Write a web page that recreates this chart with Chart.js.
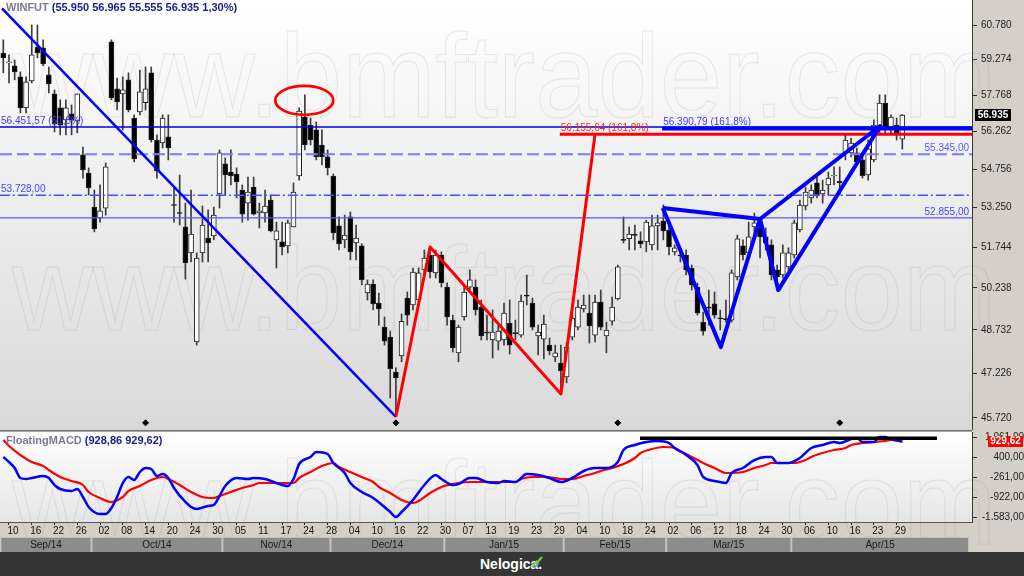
<!DOCTYPE html>
<html>
<head>
<meta charset="utf-8">
<title>WINFUT - FloatingMACD</title>
<script src="https://cdn.jsdelivr.net/npm/chart.js@4.4.1/dist/chart.umd.min.js"></script>
<style>
  html, body { margin: 0; padding: 0; background: #d4d0c8; }
  #wrap { position: relative; width: 1024px; height: 576px; overflow: hidden; font-family: "Liberation Sans", Arial, sans-serif; }
  canvas { position: absolute; left: 0; }
  #price { top: 0; }
  #macd { top: 430px; }
  .title { position: absolute; left: 6px; font-weight: bold; font-size: 11px; white-space: pre; }
  .title .sym { color: #7a7a98; }
  .title .val { color: #1c1c8c; }
  #footer { position: absolute; left: 0; top: 552px; width: 1024px; height: 24px; background: #353535; }
  #footer span { position: absolute; left: 480px; top: 4px; color: #fff; font: bold 14px "Liberation Sans", Arial, sans-serif; }
  #footer svg { position: absolute; left: 531px; top: 3px; }
</style>
</head>
<body>
<div id="wrap">
  <canvas id="price" width="1024" height="430"></canvas>
  <canvas id="macd" width="1024" height="122"></canvas>
  <div class="title" style="top:1px"><span class="sym">WINFUT</span> <span class="val">(55.950 56.965 55.555 56.935 1,30%)</span></div>
  <div class="title" style="top:434px"><span class="sym">FloatingMACD</span> <span class="val">(928,86 929,62)</span></div>
  <div id="footer"><span>Nelogica.</span>
    <svg width="12" height="14"><polyline points="1,12 6,6 5,9 11,2" stroke="#7fd23c" stroke-width="2" fill="none"/><polyline points="3,13 8,8" stroke="#2ab6e0" stroke-width="1.5" fill="none"/></svg>
  </div>
</div>
<script>
// WINFUT daily candles, 09/Sep/2014 .. 30/Apr/2015 (one entry per trading day)
const opens = [
  59560,59130,59010,58540,57240,58370,59820,59780,58620,57820,
  57240,56740,56990,56700,55320,54600,53270,52850,53230,60040,
  58030,57820,58410,56820,57070,57450,58710,55920,55800,56050,
  53350,53040,52510,51530,48310,51530,52090,52170,53780,54960,
  54640,54560,53930,53420,54050,53040,53040,53540,52020,51940,
  51790,52510,54480,56860,56530,56330,55720,55240,54480,52550,
  52020,52890,51900,51790,50060,50380,49690,48830,48480,47270,
  47820,49870,49620,49800,50900,51450,50790,51450,50270,49080,
  47930,49190,50270,50270,49550,48660,48380,48340,48380,48970,
  48640,48550,49960,49690,48520,48410,48200,47790,47580,47100,
  48480,48830,49480,49330,48550,49730,48520,49040,49840,52040,
  52060,52220,51980,51940,51830,52550,52730,52390,51570,51450,
  51450,50970,50270,49010,49530,49660,49150,49120,49080,50640,
  51790,51530,52510,52660,52130,51830,50900,50710,51010,51450,
  52390,53310,53620,54210,53780,54130,54480,54280,55400,55400,
  55400,55120,54520,55120,56330,57440,56410,56530,55950];
const highs = [
  60130,59480,59260,58750,58540,60780,60780,60130,58960,57990,
  57570,57570,57360,57820,55640,54800,53930,54130,55000,60130,
  58490,58540,58710,56950,58830,58960,58960,56130,56950,56950,
  54050,54520,53420,53930,51530,53310,53160,53270,55520,55200,
  55520,54800,54130,54440,54440,53420,53930,53740,52690,52690,
  52770,54210,57240,57780,56820,56660,56330,55520,54560,52890,
  52960,53080,52580,51870,50530,50530,50050,49190,48690,47410,
  49300,50090,50970,50970,51640,51750,51640,51570,50420,49260,
  48900,50350,50900,50530,49800,49260,49440,48900,49690,49800,
  49080,49980,50710,49870,48900,49260,48450,48200,48200,48270,
  49550,49800,49980,49980,49980,50160,49010,49910,51080,52890,
  52510,52580,52320,52770,52960,52960,53350,52580,51830,51640,
  51640,51080,50420,49370,50160,50090,49440,49800,50900,52200,
  52020,52690,53040,52850,52470,52020,51080,51830,51720,52770,
  53540,54050,54130,54520,54320,54640,54840,54840,56130,56000,
  55600,55320,55920,56740,57780,57780,56950,56820,56965];
const lows = [
  58710,58280,58410,57030,57030,58280,59350,59010,57860,56250,
  56130,56130,56130,56210,54400,53740,52320,52690,52960,57570,
  57150,56330,57070,55040,56950,57150,55840,54400,55600,55120,
  52690,52580,50560,51190,48200,51190,51190,52020,53230,53740,
  54130,53620,52690,52770,52960,52470,52690,52320,50970,51450,
  51530,52510,54320,55520,55720,55120,54920,54520,52020,51640,
  51720,51270,51270,50350,49800,49440,48900,48200,46390,45790,
  47620,48900,49440,49620,50710,50600,50600,50270,48900,47960,
  47620,49080,50160,49260,48380,48380,47750,48030,48200,47890,
  48380,48480,49620,48730,47860,47720,47860,47620,46590,46900,
  48380,48730,49370,48270,48310,48730,47930,48900,49800,51900,
  51640,51640,51720,51570,51640,51640,52020,51450,51450,51190,
  50710,50160,49260,48550,48900,49150,48730,49010,49010,50530,
  51270,51420,52200,51340,51640,50530,50160,50600,50900,51340,
  52320,53160,53420,53620,53420,53740,54130,53740,55120,55240,
  54920,54400,54320,55040,56130,56130,56210,55920,55555];
const closes = [
  59350,59180,58750,57240,58330,59480,59560,59090,58240,56570,
  56530,57240,56740,57820,54720,54010,52430,53120,54840,57650,
  57490,57990,57150,55160,57910,58030,55920,54680,56820,55600,
  53330,53020,51160,52240,51340,52580,51900,52960,55400,54520,
  54480,54250,53000,53850,53000,53120,53310,52360,52360,51750,
  52660,53850,57110,55720,55920,55240,55240,54800,52280,51870,
  52200,51570,52090,50530,50380,49660,49480,48340,47380,47070,
  49040,49260,50820,50790,51340,50820,51450,50420,49190,48100,
  48830,50090,50530,49440,48520,48620,48660,48690,49330,48200,
  48600,49760,49940,48830,48660,48940,48000,47930,47310,48130,
  49150,49550,49620,48870,49730,48830,48730,49550,51010,52000,
  52240,52190,51870,52690,52550,52660,52360,51750,51720,51420,
  50900,50350,49330,48690,49510,49260,49130,49100,50790,52060,
  51450,52130,52660,52130,51900,50710,50640,51530,51530,52660,
  53350,53850,53930,53740,53930,54400,54520,54210,55920,55800,
  55040,54480,55560,56530,57440,56410,56860,56210,56935];

// price axis ticks
const priceTicks = [45720, 47226, 48732, 50238, 51744, 53250, 54756, 56262, 57768, 59274, 60780];

// horizontal levels (fibo drawings)
const levelVals = [56451.57, 56390.79, 56155.64, 55345, 53728, 52855];
const levelFrom = [-0.6, 115.8, 97.8, -0.6, -0.6, -0.6];   // bar index where the drawing starts
const levelText = ['56.451,57 (61,8%)', '56.390,79 (161,8%)', '56.155,64 (161,8%)', '55.345,00', '53.728,00', '52.855,00'];

// trend line and zigzags (bar index / price)
const trendIdx = [-0.23, 69.0];
const trendVal = [61520, 45760];
const redIdx = [69.0, 75.0, 98.0, 104.0];
const redVal = [45760, 51750, 46524, 56155];
const patIdx = [115.9, 126.1, 133.0, 136.2, 154.1, 133.0, 115.9];
const patVal = [53230, 48130, 52810, 50160, 56490, 52810, 53230];
const dotIdx = [25, 69, 108, 147];
const dotVal = [45560, 45560, 45560, 45560];
const circleIdx = 52.9, circleVal = 57550;

// FloatingMACD
const macdIdx = [0,1,2,3,4,5,7,8,9,10,12,13,14,15,17,18,19,20,21,22,23,24,25,26,27,28,29,30,32,33,34,36,37,38,39,41,43,44,46,48,50,51,52,54,55,57,58,60,61,63,65,67,68,69,70,72,74,76,77,79,80,82,83,85,87,88,90,92,94,96,98,100,102,104,106,108,109,111,113,115,117,118,120,122,123,125,127,128,130,132,134,135,136,138,140,142,144,146,147,149,150,151,153,154,155,156,158];
const macdVal = [417,251,53,-277,-310,-277,-211,-277,-509,-641,-707,-641,-905,-1236,-1467,-1467,-1269,-905,-443,-244,-343,-79,53,20,-211,-145,-277,-608,-1070,-1236,-1302,-1202,-1169,-872,-542,-277,-310,-277,-310,-443,-542,-310,185,417,582,516,218,-112,-443,-740,-938,-1236,-1400,-1566,-1401,-1004,-509,-178,-310,-509,-476,-277,-277,-410,-443,-376,-410,-145,-178,-277,-410,-277,-46,53,53,251,648,813,912,945,879,714,483,152,-244,-376,-443,-112,53,317,417,417,218,218,384,714,813,912,879,1011,1044,912,912,1078,1078,1011,928.86];
const signalIdx = [0,1,3,5,7,8,10,12,14,15,17,19,21,22,24,26,28,29,31,33,35,37,38,40,42,44,45,47,49,51,52,54,56,58,59,61,63,65,66,68,70,72,73,75,77,79,80,82,84,86,87,90,91,93,95,97,98,100,102,104,105,107,109,111,112,114,116,118,119,121,123,125,127,128,130,132,134,135,137,139,141,142,144,146,148,149,151,153,155,156,158];
const signalVal = [978,780,483,251,119,-13,-244,-376,-509,-740,-938,-1070,-905,-707,-542,-343,-244,-310,-509,-740,-905,-938,-872,-740,-608,-509,-443,-443,-443,-443,-277,-79,119,218,86,-79,-244,-410,-575,-773,-1004,-1103,-1037,-773,-575,-476,-443,-410,-410,-410,-410,-410,-310,-244,-244,-277,-310,-310,-211,-112,-46,53,185,384,549,681,747,714,615,417,218,53,-112,-112,-79,53,152,218,218,218,317,417,549,648,714,813,879,912,945,978,929.62];
const macdTicks = [-1583, -922, -261, 400, 1061];
const topLineIdx = [111.9, 164.1];
const topLineVal = [1035, 1035];

// date axis
const dateLabels = ['10','16','22','26','02','08','14','20','24','30','05','11','17','24','28','04','10','16','22','30','07','13','19','23','29','04','10','18','24','02','06','12','18','24','30','06','10','16','23','29'];
const dateTickIdx = dateLabels.map((d, i) => 1 + 4 * i);
const monthNames = ['Sep/14','Oct/14','Nov/14','Dec/14','Jan/15','Feb/15','Mar/15','Apr/15'];
const monthStart = [0, 16, 39, 58, 78, 99, 117, 139];

const xMin = -0.58, xMax = 170.25;

// pt-BR number format
function fmt(v, dec) {
  const neg = v < 0;
  let s = Math.abs(v).toFixed(dec);
  let parts = s.split('.');
  let ip = parts[0].replace(/\B(?=(\d{3})+(?!\d))/g, '.');
  return (neg ? '-' : '') + ip + (parts[1] ? ',' + parts[1] : '');
}

Chart.defaults.font.family = '"Liberation Sans", Arial, sans-serif';
Chart.defaults.font.size = 10;

// background + watermark
const panelBg = {
  id: 'panelBg',
  beforeDraw(chart, args, o) {
    const { ctx, chartArea: a } = chart;
    ctx.save();
    ctx.fillStyle = '#d4d0c8';
    ctx.fillRect(0, 0, chart.width, chart.height);
    if (o.topLine) {
      ctx.fillStyle = '#7a7a7a';
      ctx.fillRect(0, 0, a.right, 1.5);
    }
    const g = ctx.createLinearGradient(0, a.top, 0, a.bottom);
    g.addColorStop(0, o.top);
    g.addColorStop(1, o.bottom);
    ctx.fillStyle = g;
    ctx.fillRect(a.left, a.top, a.right - a.left, a.bottom - a.top);
    ctx.restore();
  },
  beforeDatasetsDraw(chart, args, o) {
    const ctx = chart.ctx;
    ctx.save();
    ctx.font = '118px "Liberation Sans", Arial, sans-serif';
    ctx.strokeStyle = 'rgba(120,120,120,0.15)';
    ctx.lineWidth = 1;
    o.rows.forEach(b => {
      ctx.save();
      ctx.translate(12, b);
      ctx.scale(0.95, 1);
      ctx.strokeText('www.bmftrader.com', 0, 0);
      ctx.restore();
    });
    ctx.restore();
  }
};

// level texts, red circle, last price box
const priceMarks = {
  id: 'priceMarks',
  afterDatasetsDraw(chart) {
    const { ctx, chartArea: a } = chart;
    const x = chart.scales.x, y = chart.scales.y;
    ctx.save();
    ctx.font = '10px "Liberation Sans", Arial, sans-serif';
    const cols = ['#3c3cff', '#3c3cff', '#ff2020', '#5a5aff', '#4646ff', '#4646ff'];
    levelText.forEach((t, i) => {
      const py = y.getPixelForValue(levelVals[i]) - 3;
      ctx.fillStyle = cols[i];
      if (i === 3 || i === 5) {
        ctx.textAlign = 'right';
        ctx.fillText(t, a.right - 3, py);
      } else {
        ctx.textAlign = 'left';
        ctx.fillText(t, Math.max(0, x.getPixelForValue(levelFrom[i])) + 1, py);
      }
    });
    ctx.strokeStyle = '#ff0000';
    ctx.lineWidth = 2.7;
    ctx.beginPath();
    ctx.ellipse(x.getPixelForValue(circleIdx), y.getPixelForValue(circleVal), 29, 14.5, 0, 0, Math.PI * 2);
    ctx.stroke();
    ctx.restore();
  },
  afterDraw(chart) {
    const { ctx, chartArea: a } = chart;
    const last = closes[closes.length - 1];
    const py = Math.round(chart.scales.y.getPixelForValue(last));
    ctx.save();
    ctx.fillStyle = '#000';
    ctx.fillRect(a.right + 3, py - 6, 36, 12);
    ctx.fillStyle = '#fff';
    ctx.font = 'bold 10px "Liberation Sans", Arial, sans-serif';
    ctx.textAlign = 'center';
    ctx.textBaseline = 'middle';
    ctx.fillText(fmt(last, 0), a.right + 21, py + 0.5);
    ctx.restore();
  }
};

// macd last value box and month band
const macdMarks = {
  id: 'macdMarks',
  afterDraw(chart) {
    const { ctx, chartArea: a } = chart;
    const x = chart.scales.x, y = chart.scales.y;
    const last = signalVal[signalVal.length - 1];
    const py = Math.round(y.getPixelForValue(last));
    ctx.save();
    ctx.fillStyle = '#ff0000';
    ctx.fillRect(988, py - 5, 35, 11);
    ctx.fillStyle = '#fff';
    ctx.font = 'bold 10px "Liberation Sans", Arial, sans-serif';
    ctx.textAlign = 'center';
    ctx.textBaseline = 'middle';
    ctx.fillText(fmt(last, 2), 1005.5, py + 0.5);

    const top = a.bottom + 15, h = chart.height - top;
    ctx.font = '10px "Liberation Sans", Arial, sans-serif';
    monthNames.forEach((m, i) => {
      const x0 = Math.max(0, x.getPixelForValue(monthStart[i] - 0.5));
      const x1 = i < monthNames.length - 1 ? x.getPixelForValue(monthStart[i + 1] - 0.5) : a.right - 3;
      ctx.fillStyle = '#c4c0b8';
      ctx.fillRect(x0, top, x1 - x0, h);
      ctx.fillStyle = '#8c8c8c';
      ctx.fillRect(x0 + 1, top + 1, x1 - x0 - 2, h - 1);
      ctx.fillStyle = '#1a1a1a';
      ctx.fillText(m, (x0 + x1) / 2, top + h / 2 + 1);
    });
    ctx.restore();
  }
};

function zeroPad(s) { s.paddingTop = 0; s.paddingBottom = 0; s.paddingLeft = 0; s.paddingRight = 0; }

const idx = closes.map((c, i) => i);
const lineDs = (xs, ys, color, width, dash) => ({
  type: 'line',
  data: xs.map((v, i) => ({ x: v, y: ys[i] })),
  borderColor: color, borderWidth: width, borderDash: dash || [],
  pointRadius: 0, fill: false, tension: 0, borderJoinStyle: 'round', order: 1
});

const levelDs = levelVals.map((v, i) => lineDs(
  [levelFrom[i], xMax], [v, v],
  ['#0000e6', '#0000ff', '#ff0000', '#7a7aff', '#4a4aff', '#5a5aff'][i],
  [1.6, 4, 3, 2, 1.5, 1.3][i],
  [[], [], [], [12, 5], [10, 3, 2, 3], []][i]
));

new Chart(document.getElementById('price'), {
  type: 'bar',
  data: {
    datasets: [
      lineDs(patIdx, patVal, '#0000ff', 4),
      lineDs(redIdx, redVal, '#ff0000', 3),
      lineDs(trendIdx, trendVal, '#0000ff', 2.5),
      ...levelDs,
      {
        type: 'line', showLine: false,
        data: dotIdx.map((v, i) => ({ x: v, y: dotVal[i] })),
        pointStyle: 'rectRot', pointRadius: 3, pointBackgroundColor: '#000', pointBorderColor: '#000', order: 1
      },
      {
        type: 'bar', grouped: false, order: 2,
        data: idx.map(i => ({ x: i, y: [opens[i], closes[i]] })),
        backgroundColor: idx.map(i => closes[i] >= opens[i] ? '#ffffff' : '#000000'),
        borderColor: '#222', borderWidth: 1, borderSkipped: false,
        barThickness: 5, minBarLength: 1
      },
      {
        type: 'bar', grouped: false, order: 3,
        data: idx.map(i => ({ x: i, y: [lows[i], highs[i]] })),
        backgroundColor: '#3c3c3c', barThickness: 1
      }
    ]
  },
  options: {
    responsive: false, animation: false, events: [],
    layout: { autoPadding: false, padding: { top: 0, right: 0, bottom: 1, left: 0 } },
    plugins: {
      legend: { display: false }, tooltip: { enabled: false },
      panelBg: { top: '#ffffff', bottom: '#d9d9d9', rows: [117, 330] }
    },
    scales: {
      x: { type: 'linear', min: xMin, max: xMax, offset: false, display: false },
      y: {
        type: 'logarithmic', position: 'right', min: 45357, max: 61891,
        afterBuildTicks: s => { s.ticks = priceTicks.map(v => ({ value: v })); },
        afterFit: s => { s.width = 52; zeroPad(s); },
        ticks: { autoSkip: false, callback: v => fmt(v, 0), color: '#222', padding: 4, font: { size: 10 } },
        grid: { drawOnChartArea: false, tickLength: 5, color: '#333' },
        border: { color: '#3a3a3a' }
      }
    }
  },
  plugins: [panelBg, priceMarks]
});

new Chart(document.getElementById('macd'), {
  type: 'line',
  data: {
    datasets: [
      {
        data: topLineIdx.map((v, i) => ({ x: v, y: topLineVal[i] })),
        borderColor: '#000', borderWidth: 3.5, pointRadius: 0, tension: 0
      },
      {
        data: macdIdx.map((v, i) => ({ x: v, y: macdVal[i] })),
        borderColor: '#0000ff', borderWidth: 2.5, pointRadius: 0, cubicInterpolationMode: 'monotone'
      },
      {
        data: signalIdx.map((v, i) => ({ x: v, y: signalVal[i] })),
        borderColor: '#ff0000', borderWidth: 2.2, pointRadius: 0, cubicInterpolationMode: 'monotone'
      }
    ]
  },
  options: {
    responsive: false, animation: false, events: [],
    layout: { autoPadding: false, padding: { top: 2, right: 0, bottom: 15, left: 0 } },
    plugins: {
      legend: { display: false }, tooltip: { enabled: false },
      panelBg: { top: '#ffffff', bottom: '#e6e6e6', rows: [114], topLine: true }
    },
    scales: {
      x: {
        type: 'linear', min: xMin, max: xMax, offset: false,
        afterBuildTicks: s => { s.ticks = dateTickIdx.map(v => ({ value: v })); },
        afterFit: s => { s.height = 15; zeroPad(s); },
        ticks: { autoSkip: false, maxRotation: 0, labelOffset: 4, padding: 0, color: '#111',
                 callback: (v, i) => dateLabels[i] },
        grid: { drawOnChartArea: false, tickLength: 3, color: '#222' },
        border: { color: '#555' }
      },
      y: {
        position: 'right', min: -1731.7, max: 1242.8,
        afterBuildTicks: s => { s.ticks = macdTicks.map(v => ({ value: v })); },
        afterFit: s => { s.width = 52; zeroPad(s); },
        ticks: { autoSkip: false, crossAlign: 'far', padding: 1, color: '#222', callback: v => fmt(v, 2) },
        grid: { drawOnChartArea: false, tickLength: 5, color: '#333' },
        border: { color: '#3a3a3a' }
      }
    }
  },
  plugins: [panelBg, macdMarks]
});
</script>
</body>
</html>
